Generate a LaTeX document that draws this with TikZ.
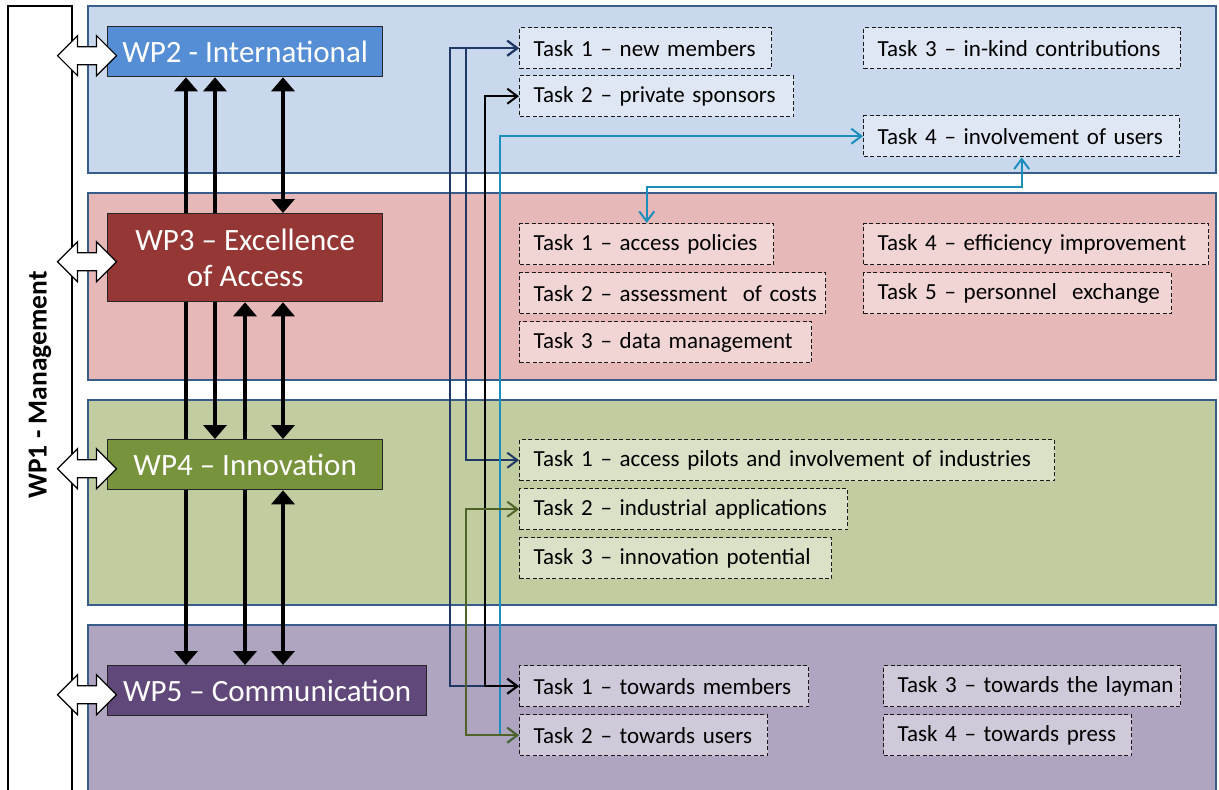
\documentclass[tikz,border=0pt]{standalone}
\usepackage{fontspec}
\setmainfont{Carlito}
\usetikzlibrary{arrows.meta}
\pgfdeclarelayer{bands}
\pgfdeclarelayer{links}
\pgfsetlayers{bands,links,main}

\definecolor{bandblue}{RGB}{201,216,236}
\definecolor{bandred}{RGB}{230,185,184}
\definecolor{bandgreen}{RGB}{193,205,160}
\definecolor{bandpurple}{RGB}{176,165,193}
\definecolor{bandline}{RGB}{56,93,138}
\definecolor{wpblue}{RGB}{85,142,213}
\definecolor{wpred}{RGB}{149,55,53}
\definecolor{wpgreen}{RGB}{119,147,60}
\definecolor{wppurple}{RGB}{96,73,122}
\definecolor{navylink}{RGB}{31,56,100}
\definecolor{cyanlink}{RGB}{28,142,190}
\definecolor{olivelink}{RGB}{79,98,40}

\tikzset{
  band/.style={draw=bandline,line width=1.2},
  wpbox/.style={draw=black!85,line width=1.3,text=white,anchor=north west,
    inner sep=3,align=center,font=\fontsize{31}{36}\selectfont},
  task/.style={draw=black!90,line width=1.4,dash pattern=on 4pt off 2.5pt,
    fill=white,fill opacity=.4,text opacity=1,draw opacity=1,anchor=north west,
    minimum height=41,inner xsep=14,inner ysep=2,align=left,
    font=\fontsize{23}{27}\selectfont},
  dlink/.style={line width=4,{Triangle[length=14pt,width=23pt]}-{Triangle[length=14pt,width=23pt]}},
  tlink/.style={line width=2,{Straight Barb[length=10pt,width=15pt]}-{Straight Barb[length=10pt,width=15pt]}},
  dblarrow/.pic={
    \draw[fill=white,line width=1.2] (-29.5,0) -- (-9.5,-20) -- (-9.5,-9) -- (9.5,-9)
      -- (9.5,-20) -- (29.5,0) -- (9.5,20) -- (9.5,9) -- (-9.5,9) -- (-9.5,20) -- cycle;
  }
}

\begin{document}
\begin{tikzpicture}[x=1pt,y=-1pt]
\useasboundingbox (0,0) rectangle (1219,790);
%
% bands and management column
\begin{pgfonlayer}{bands}
\fill[white] (0,0) rectangle (1219,790);
\draw[band,fill=bandblue] (88,6) rectangle (1216,173);
\draw[band,fill=bandred] (88,193) rectangle (1216,380);
\draw[band,fill=bandgreen] (88,400) rectangle (1216,605);
\draw[band,fill=bandpurple] (88,625) rectangle (1216,800);
\draw[line width=1.3,fill=white] (8,6) rectangle (72,800);
\end{pgfonlayer}
\node[rotate=90,font=\bfseries\fontsize{27.5}{30}\selectfont] (wp1) at (40,385) {WP1 - Management};
%
% work packages
\node[wpbox,fill=wpblue,minimum width=275,minimum height=50] (wp2) at (107,26) {WP2 - International};
\node[wpbox,fill=wpred,minimum width=275,minimum height=88] (wp3) at (107,213) {WP3 – Excellence\\of Access};
\node[wpbox,fill=wpgreen,minimum width=275,minimum height=50] (wp4) at (107,439) {WP4 – Innovation};
\node[wpbox,fill=wppurple,minimum width=319,minimum height=50] (wp5) at (107,665) {WP5 – Communication};
%
\foreach \wp in {wp2,wp3,wp4,wp5}
\pic at ([shift={(-20,4)}]\wp.west) {dblarrow};
%
% tasks
\foreach \n/\x/\y/\w/\txt in {
  ia1/519/27/224/Task 1 – new members,
  ia2/519/75/246/Task 2 – private sponsors,
  ia3/863/27/289/Task 3 – in-kind contributions,
  ia4/863/115/288/Task 4 – involvement of users,
  ex1/519/223/226/Task 1 – access policies,
  ex2/519/272/278/Task 2 – assessment\ \ of costs,
  ex3/519/321/264/Task 3 – data management,
  ex4/863/223/317/Task 4 – efficiency improvement,
  ex5/863/272/280/Task 5 – personnel\ \ exchange,
  in1/519/439/507/Task 1 – access pilots and involvement of industries,
  in2/519/488/300/Task 2 – industrial applications,
  in3/519/537/284/Task 3 – innovation potential,
  co1/519/665/261/Task 1 – towards members,
  co2/519/714/220/Task 2 – towards users,
  co3/883/665/269/Task 3 – towards the layman,
  co4/883/714/220/Task 4 – towards press}
\node[task,text width=\w] (\n) at (\x,\y) {\mbox{\txt}};
%
% links between work packages
\begin{pgfonlayer}{links}
\draw[dlink] ([xshift=79]wp2.south west) -- ([xshift=79]wp5.north west);
\draw[dlink] ([xshift=108]wp2.south west) -- ([xshift=108]wp4.north west);
\draw[dlink] ([xshift=138]wp3.south west) -- ([xshift=138]wp5.north west);
\draw[dlink] ([xshift=176]wp2.south west) -- ([xshift=176]wp3.north west);
\draw[dlink] ([xshift=176]wp3.south west) -- ([xshift=176]wp4.north west);
\draw[dlink] ([xshift=176]wp4.south west) -- ([xshift=176]wp5.north west);
%
% links between tasks
\draw[tlink,navylink] (ia1.west) -- ++(-53,0) |- (in1.west);
\draw[tlink,navylink] (ia1.west) -- ++(-69,0) |- (co1.west);
\draw[tlink,cyanlink] (ia4.west) -- ++(-363,0) |- (co2.west);
\draw[tlink,cyanlink] (ia4.south) -- ++(0,30) -| (ex1.north);
\draw[tlink,black] (ia2.west) -- ++(-34,0) |- (co1.west);
\draw[tlink,olivelink] (in2.west) -- ++(-53,0) |- (co2.west);
\end{pgfonlayer}
\end{tikzpicture}
\end{document}
